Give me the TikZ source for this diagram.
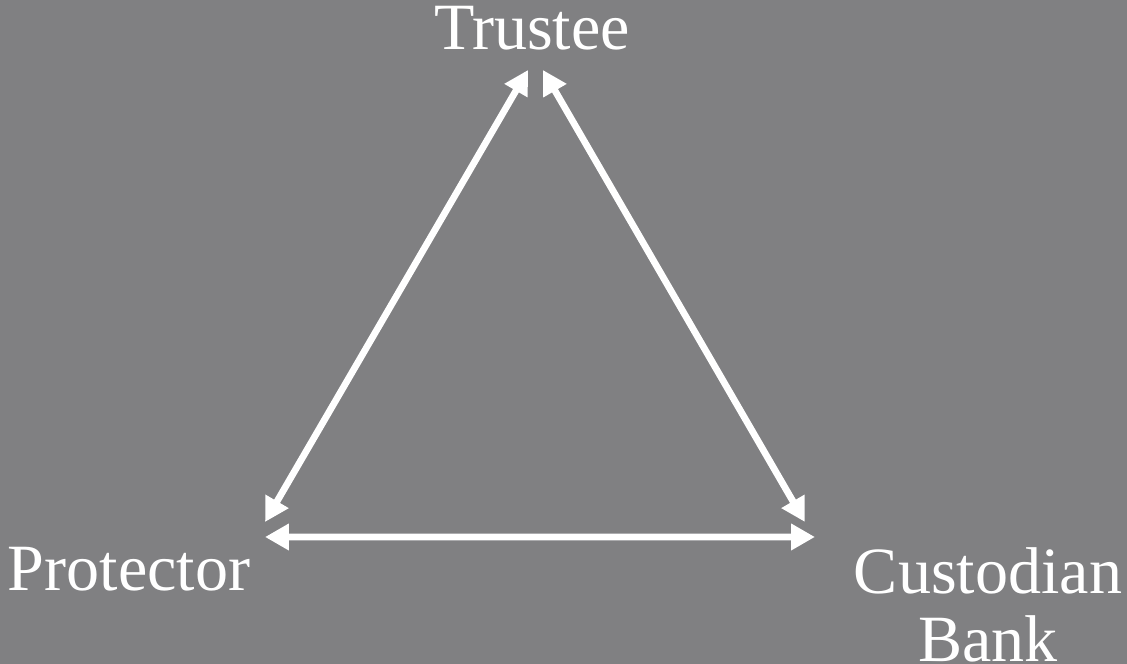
\documentclass[tikz,border=0pt]{standalone}
\usepackage{fontspec}
\setmainfont{Liberation Serif}
\usetikzlibrary{arrows.meta}
\definecolor{slate}{RGB}{128,128,130}

\begin{document}
\begin{tikzpicture}[x=0.025cm,y=-0.025cm,
  party/.style={text=white,font=\fontsize{47}{48.4}\selectfont,align=center,inner sep=0pt},
  link/.style={white,line width=4.8pt,{Triangle[length=17pt,width=18pt]}-{Triangle[length=17pt,width=18pt]}}]
  \fill[slate] (0,0) rectangle (1127,664);
  \useasboundingbox (0,0) rectangle (1127,664);
  % the three parties
  \node[party,anchor=base] (trustee) at (532,50) {Trustee};
  \node[party,anchor=base] (protector) at (129,590) {Protector};
  \node[party] (bank) at (988,605) {Custodian\\Bank};
  % who talks to whom
  \draw[link] ([xshift=3.4cm,yshift=1.7cm]protector.base) -- ([xshift=-0.1cm,yshift=-0.5cm]trustee.base);
  \draw[link] ([xshift=0.275cm,yshift=-0.5cm]trustee.base) -- ([xshift=-4.575cm,yshift=2.075cm]bank.center);
  \draw[link] ([xshift=3.4cm,yshift=1.325cm]protector.base) -- ([xshift=-4.325cm,yshift=1.7cm]bank.center);
\end{tikzpicture}
\end{document}
